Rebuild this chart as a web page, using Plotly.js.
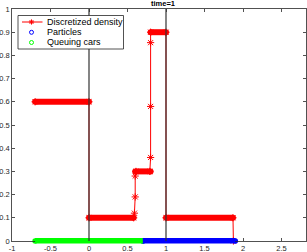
<!DOCTYPE html>
<html>
<head>
<meta charset="utf-8">
<script src="https://cdn.plot.ly/plotly-3.0.1.min.js"></script>
<style>html,body{margin:0;padding:0;background:#fff;}#chart{width:307px;height:252px;}</style>
</head>
<body>
<div id="chart"></div>
<script>
// ---- Data ----
const titleText = "time=1";
// Discretized density: piecewise-constant plateaus
const plateauStart = [-0.70, 0.00, 0.60, 0.80, 1.00];
const plateauEnd   = [ 0.00, 0.58, 0.80, 1.00, 1.87];
const plateauValue = [ 0.60, 0.10, 0.30, 0.90, 0.10];
// Density profile outline including the transition cells
const densityX = [-0.70, 0.00, 0.00, 0.58, 0.59, 0.60, 0.60, 0.61, 0.79, 0.80, 0.80, 0.80, 0.80, 1.00, 1.00, 1.87, 1.875];
const densityY = [ 0.60, 0.60, 0.10, 0.10, 0.12, 0.19, 0.28, 0.30, 0.30, 0.36, 0.58, 0.855, 0.90, 0.90, 0.10, 0.10, 0.00];
// Particles (blue) and queuing cars (green) spans along y = 0
const particlesX = [0.70, 1.90];
const particlesY = [0, 0];
const queueX = [-0.70, 0.70];
const queueY = [0, 0];
// Vertical reference lines
const vLines = [0, 1];
// Ticks
const xTicks = [-1, -0.5, 0, 0.5, 1, 1.5, 2, 2.5];
const xTickLabels = ["-1", "-0.5", "0", "0.5", "1", "1.5", "2", "2.5"];
const yTicks = [0, 0.1, 0.2, 0.3, 0.4, 0.5, 0.6, 0.7, 0.8, 0.9, 1];
const yTickLabels = ["0", "0.1", "0.2", "0.3", "0.4", "0.5", "0.6", "0.7", "0.8", "0.9", "1"];
const legendLabels = ["Discretized density", "Particles", "Queuing cars"];

// ---- Styles / layout ----
const RED = "#ff0000", BLUE = "#0000ff", GREEN = "#00ff00", AX = "#262626";
const FONT = "Liberation Sans, Arial, sans-serif";
const W = 307, H = 252, ML = 12, MR = 1, MT = 9, MB = 11;
const PW = W - ML - MR, PH = H - MT - MB;
const px = x => (x - ML) / PW;            // pixel -> paper x
const py = y => (H - MB - y) / PH;        // pixel -> paper y

const traces = [];
// thick plateau bands (overlapping markers in the original)
plateauStart.forEach((s, i) => {
  traces.push({x: [s, plateauEnd[i]], y: [plateauValue[i], plateauValue[i]], mode: "lines+markers",
    line: {color: RED, width: 6}, marker: {symbol: "circle", size: 6, color: RED},
    showlegend: false, hoverinfo: "skip"});
});
traces.push({x: densityX, y: densityY, mode: "lines+markers", name: legendLabels[0],
  line: {color: RED, width: 1},
  marker: {symbol: "asterisk-open", size: 6, color: RED, line: {color: RED, width: 1}},
  cliponaxis: false, showlegend: false});
traces.push({x: queueX, y: queueY, mode: "lines+markers", name: legendLabels[2],
  line: {color: GREEN, width: 5.5}, marker: {symbol: "circle", size: 5.5, color: GREEN},
  cliponaxis: false, showlegend: false});
traces.push({x: particlesX, y: particlesY, mode: "lines+markers", name: legendLabels[1],
  line: {color: BLUE, width: 5.5}, marker: {symbol: "circle", size: 5.5, color: BLUE},
  cliponaxis: false, showlegend: false});

const shapes = [];
// full-thickness bands along y = 0 (lines are clipped at the axis; shapes are not clipped vertically)
[[queueX, GREEN], [particlesX, BLUE]].forEach(([xs, c]) => {
  shapes.push({type: "rect", xref: "x", yref: "paper", x0: xs[0], x1: xs[1],
    ysizemode: "pixel", yanchor: 0, y0: -2.6, y1: 2.9, line: {width: 0}, fillcolor: c, layer: "above"});
});
vLines.forEach(v => shapes.push({type: "line", xref: "x", yref: "paper", x0: v, x1: v, y0: 0, y1: 1,
  line: {color: "#333333", width: 1.2}, layer: "above"}));

// manual legend (MATLAB style compact box)
shapes.push({type: "rect", xref: "paper", yref: "paper", x0: px(18), x1: px(123.5), y0: py(49), y1: py(15.5),
  line: {color: AX, width: 0.8}, fillcolor: "#ffffff", layer: "above"});
shapes.push({type: "line", xref: "paper", yref: "paper", x0: px(22), x1: px(42.5), y0: py(22), y1: py(22),
  line: {color: RED, width: 1}, layer: "above"});
// asterisk glyph
const ax0 = 31.5, ay0 = 22, r = 2.6, d = 1.9;
shapes.push({type: "path", xref: "paper", yref: "paper", layer: "above",
  path: `M${px(ax0-r)},${py(ay0)}L${px(ax0+r)},${py(ay0)}M${px(ax0)},${py(ay0-r)}L${px(ax0)},${py(ay0+r)}` +
        `M${px(ax0-d)},${py(ay0-d)}L${px(ax0+d)},${py(ay0+d)}M${px(ax0-d)},${py(ay0+d)}L${px(ax0+d)},${py(ay0-d)}`,
  line: {color: RED, width: 1}});
[[32.3, BLUE], [42.5, GREEN]].forEach(([yy, c]) => {
  shapes.push({type: "circle", xref: "paper", yref: "paper", layer: "above",
    x0: px(ax0 - 2), x1: px(ax0 + 2), y0: py(yy + 2), y1: py(yy - 2), line: {color: c, width: 1}});
});
const annotations = [[22, legendLabels[0]], [32.3, legendLabels[1]], [42.5, legendLabels[2]]].map(([yy, t]) => ({
  xref: "paper", yref: "paper", x: px(45), y: py(yy), xanchor: "left", yanchor: "middle",
  text: t, showarrow: false, font: {family: FONT, size: 9, color: "#000"}}));

const axisCommon = {ticks: "inside", ticklen: 3, tickwidth: 0.8, tickcolor: AX, showline: true, linecolor: AX,
  linewidth: 0.8, mirror: "ticks", showgrid: false, zeroline: false, tickmode: "array",
  tickfont: {family: FONT, size: 7.5, color: AX}};

const layout = {
  width: W, height: H, margin: {l: ML, r: MR, t: MT, b: MB, pad: 0},
  paper_bgcolor: "#ffffff", plot_bgcolor: "#ffffff", showlegend: false,
  title: {text: "<b>" + titleText + "</b>", font: {family: FONT, size: 7.5, color: "#000"},
    x: 163 / W, xanchor: "center", y: 1 - 3 / H, yanchor: "middle", xref: "container", yref: "container"},
  xaxis: Object.assign({}, axisCommon, {range: [-1, -1 + PW / 77], tickvals: xTicks, ticktext: xTickLabels}),
  yaxis: Object.assign({}, axisCommon, {range: [0, 1], tickvals: yTicks, ticktext: yTickLabels}),
  shapes: shapes, annotations: annotations
};
Plotly.newPlot("chart", traces, layout, {staticPlot: true, displayModeBar: false});
</script>
</body>
</html>
